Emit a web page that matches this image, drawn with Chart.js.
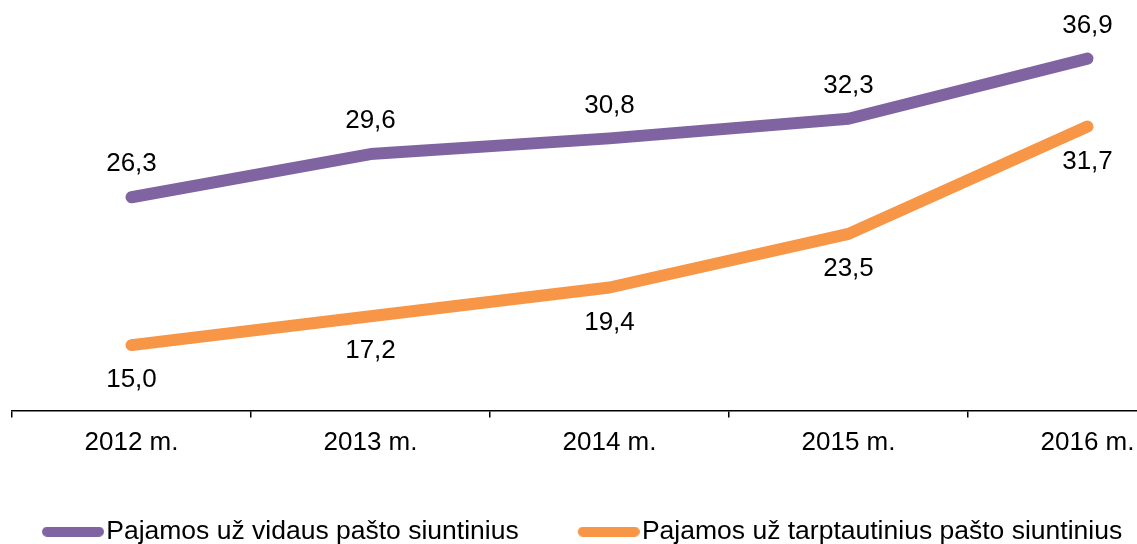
<html>
<head>
<meta charset="UTF-8">
<title>Pajamos</title>
<script src="https://cdn.jsdelivr.net/npm/chart.js@4.4.0/dist/chart.umd.min.js"></script>
<style>
    body { margin: 0; overflow: hidden; background: #fff; }
    #wrap { width: 1220px; height: 544px; }
</style>
</head>
<body>
<div id="wrap"><canvas id="myChart" width="1220" height="544"></canvas></div>

<script>
    // data
    var years = ['2012 m.', '2013 m.', '2014 m.', '2015 m.', '2016 m.'];
    var domestic = [26.3, 29.6, 30.8, 32.3, 36.9];
    var international = [15.0, 17.2, 19.4, 23.5, 31.7];
    var seriesNames = ['Pajamos už vidaus pašto siuntinius', 'Pajamos už tarptautinius pašto siuntinius'];

    var FONT = "'Liberation Sans', Arial, sans-serif";
    var labelOffset = [-33, 35]; // purple above, orange below

    function fmt(v) {
        return v.toFixed(1).replace('.', ',');
    }

    // rounded line used as legend marker; drawn at the right end of a wider
    // transparent image so the marker sits right against its text
    function legendLine(color) {
        var c = document.createElement('canvas');
        c.width = 122;
        c.height = 10;
        var g = c.getContext('2d');
        g.strokeStyle = color;
        g.lineWidth = 10;
        g.lineCap = 'round';
        g.beginPath();
        g.moveTo(65, 5);
        g.lineTo(117, 5);
        g.stroke();
        return c;
    }

    // value labels next to every point
    var valueLabels = {
        id: 'valueLabels',
        afterDatasetsDraw: function (chart) {
            var ctx = chart.ctx;
            ctx.save();
            ctx.font = '26px ' + FONT;
            ctx.fillStyle = '#000';
            ctx.textAlign = 'center';
            ctx.textBaseline = 'middle';
            chart.data.datasets.forEach(function (ds, i) {
                var meta = chart.getDatasetMeta(i);
                meta.data.forEach(function (pt, j) {
                    ctx.fillText(fmt(ds.data[j]), pt.x, pt.y + labelOffset[i]);
                });
            });
            ctx.restore();
        }
    };

    // move legend a bit left and down, like in the original
    var legendShift = {
        id: 'legendShift',
        afterLayout: function (chart) {
            chart.legend.left -= 29;
            chart.legend.right -= 29;
            chart.legend.top += 11;
            chart.legend.bottom += 11;
        }
    };

    var ctx = document.getElementById('myChart');
    var myChart = new Chart(ctx, {
        type: 'line',
        data: {
            labels: years,
            datasets: [{
                label: seriesNames[0],
                data: domestic,
                borderColor: '#8064A2',
                backgroundColor: '#8064A2',
                borderWidth: 12,
                borderCapStyle: 'round',
                borderJoinStyle: 'round',
                pointRadius: 0,
                pointStyle: legendLine('#8064A2'),
                tension: 0
            }, {
                label: seriesNames[1],
                data: international,
                borderColor: '#F79646',
                backgroundColor: '#F79646',
                borderWidth: 12,
                borderCapStyle: 'round',
                borderJoinStyle: 'round',
                pointRadius: 0,
                pointStyle: legendLine('#F79646'),
                tension: 0
            }]
        },
        options: {
            responsive: false,
            animation: false,
            layout: {
                padding: { left: 12, right: 13, top: 18, bottom: 0 }
            },
            scales: {
                x: {
                    offset: true,
                    grid: {
                        offset: true,
                        drawOnChartArea: false,
                        drawTicks: true,
                        tickLength: 7,
                        color: '#000',
                        lineWidth: 1.5
                    },
                    border: { display: true, color: '#000', width: 1.5 },
                    ticks: {
                        color: '#000',
                        padding: 10,
                        font: { family: FONT, size: 26 },
                        maxRotation: 0
                    },
                    afterFit: function (scale) {
                        scale.height = 87;
                    }
                },
                y: {
                    display: false,
                    min: 10,
                    max: 40
                }
            },
            plugins: {
                legend: {
                    position: 'bottom',
                    align: 'start',
                    labels: {
                        color: '#000',
                        font: { family: FONT, size: 26.5 },
                        usePointStyle: true,
                        pointStyleWidth: 100,
                        padding: 10
                    }
                },
                tooltip: { enabled: false }
            }
        },
        plugins: [valueLabels, legendShift]
    });
</script>
</body>
</html>
